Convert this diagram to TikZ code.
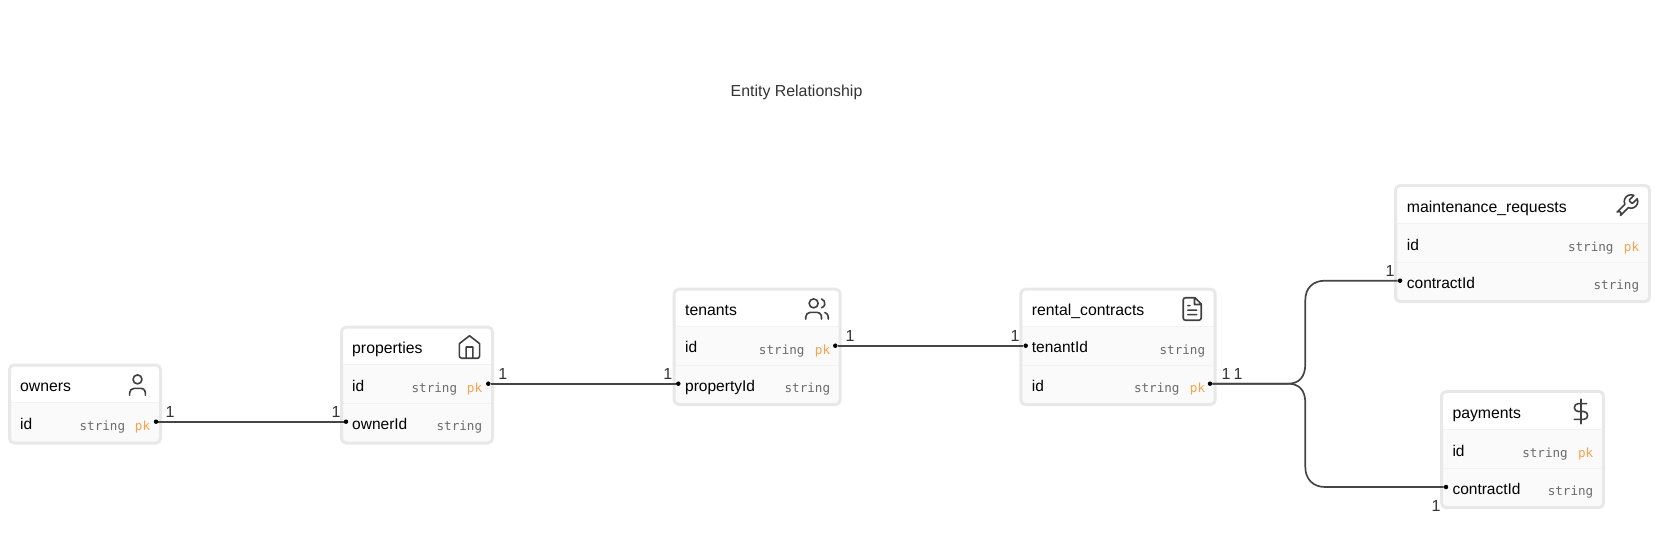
\documentclass[tikz,border=0pt]{standalone}
\usepackage{fontspec}
\setmainfont{Liberation Sans}
\newfontfamily\typefont{DejaVu Sans Mono}
\usetikzlibrary{positioning,calc,svg.path}
\definecolor{framegray}{rgb}{0.91, 0.91, 0.91}
\definecolor{rowgray}{rgb}{0.98, 0.98, 0.98}
\definecolor{splitgray}{rgb}{0.95, 0.95, 0.95}
\definecolor{typegray}{rgb}{0.42, 0.42, 0.42}
\definecolor{keyorange}{rgb}{0.98, 0.63, 0.30}
\definecolor{icongray}{rgb}{0.25, 0.25, 0.25}
\definecolor{linegray}{rgb}{0.2, 0.2, 0.2}
\definecolor{wiregray}{rgb}{0.27, 0.27, 0.27}
\tikzset{
	entity/.style={rectangle,draw=framegray,line width=3pt,rounded corners=4.5pt,fill=rowgray,inner sep=0pt,
		path picture={
			\fill[white] (path picture bounding box.north west) rectangle ([yshift=-37.5pt]path picture bounding box.north east);
			\draw[splitgray,line width=1pt] ([yshift=-37.5pt]path picture bounding box.north west) -- ([yshift=-37.5pt]path picture bounding box.north east);
			\draw[splitgray,line width=1pt] ([yshift=-#1]path picture bounding box.north west) -- ([yshift=-#1]path picture bounding box.north east);
	}},
	entityname/.style={anchor=base west,inner sep=0pt,font=\fontsize{15.8}{18}\selectfont},
	fieldname/.style={anchor=base west,inner sep=0pt,font=\fontsize{15.5}{18}\selectfont},
	fieldtype/.style={anchor=base east,xshift=1pt,inner sep=0pt,text=typegray,font=\typefont\fontsize{12.6}{14}\selectfont},
	fieldkey/.style={anchor=base east,xshift=1pt,inner sep=0pt,text=keyorange,font=\typefont\fontsize{12.6}{14}\selectfont},
	port/.style={circle,fill=black,inner sep=0pt,minimum size=4.5pt},
	relation/.style={draw=wiregray,line width=1.7pt},
	card/.style={inner sep=0pt,xshift=1pt,text=linegray,font=\fontsize{16}{17}\selectfont},
	icon/.style={draw=icongray,line width=1.6pt,scale=1.125,yscale=-1,line cap=round,line join=round}
}
\begin{document}
\begin{tikzpicture}[x=1pt,y=-1pt]
	\useasboundingbox (0,0) rectangle (1675,559);
	
	\node[inner sep=0pt,anchor=base west,text=linegray,font=\fontsize{15.9}{18}\selectfont] (title) at (730.5,97) {Entity Relationship};
	
	%boxes
	\node[entity=200pt,minimum width=151pt,minimum height=78pt] (owners) at (85,404) {};
	\node[entity=76.5pt,minimum width=151pt,minimum height=115.8pt] (properties) at (417,385.1) {};
	\node[entity=76.5pt,minimum width=166pt,minimum height=115.3pt] (tenants) at (757.2,346.85) {};
	\node[entity=76.5pt,minimum width=194.4pt,minimum height=115.3pt] (contracts) at (1118,346.85) {};
	\node[entity=76.5pt,minimum width=254pt,minimum height=116pt] (requests) at (1522.5,243.5) {};
	\node[entity=76.5pt,minimum width=162pt,minimum height=116pt] (payments) at (1522.5,449.5) {};
	
	%owners
	\node[entityname] (ownersName) at (20,391.7) {owners};
	\node[fieldname] (ownersIdName) at (20,429) {id};
	\node[fieldtype] (ownersIdType) at (124.3,430) {string};
	\node[fieldkey] (ownersIdKey) at (149.3,430) {pk};
	
	%properties
	\node[entityname] (propertiesName) at (352,353.9) {properties};
	\node[fieldname] (propertiesIdName) at (352,391) {id};
	\node[fieldtype] (propertiesIdType) at (456.3,392) {string};
	\node[fieldkey] (propertiesIdKey) at (481.3,392) {pk};
	\node[fieldname] (propertiesOwnerName) at (352,429) {ownerId};
	\node[fieldtype] (propertiesOwnerType) at (481.3,430) {string};
	
	%tenants
	\node[entityname] (tenantsName) at (685,315.9) {tenants};
	\node[fieldname] (tenantsIdName) at (685,352.7) {id};
	\node[fieldtype] (tenantsIdType) at (803.7,354) {string};
	\node[fieldkey] (tenantsIdKey) at (829.3,354) {pk};
	\node[fieldname] (tenantsPropertyName) at (685,391) {propertyId};
	\node[fieldtype] (tenantsPropertyType) at (829.3,392.3) {string};
	
	%rental contracts
	\node[entityname] (contractsName) at (1031.7,315.9) {rental\_contracts};
	\node[fieldname] (contractsTenantName) at (1031.7,352.7) {tenantId};
	\node[fieldtype] (contractsTenantType) at (1204.3,354) {string};
	\node[fieldname] (contractsIdName) at (1031.7,391) {id};
	\node[fieldtype] (contractsIdType) at (1178.7,392.3) {string};
	\node[fieldkey] (contractsIdKey) at (1204.3,392.3) {pk};
	
	%maintenance requests
	\node[entityname] (requestsName) at (1406.7,212.2) {maintenance\_requests};
	\node[fieldname] (requestsIdName) at (1406.7,250) {id};
	\node[fieldtype] (requestsIdType) at (1612.7,251) {string};
	\node[fieldkey] (requestsIdKey) at (1638.3,251) {pk};
	\node[fieldname] (requestsContractName) at (1406.7,288) {contractId};
	\node[fieldtype] (requestsContractType) at (1638.3,289.3) {string};
	
	%payments
	\node[entityname] (paymentsName) at (1452.3,418) {payments};
	\node[fieldname] (paymentsIdName) at (1452.3,456) {id};
	\node[fieldtype] (paymentsIdType) at (1567,457.3) {string};
	\node[fieldkey] (paymentsIdKey) at (1592.5,457.3) {pk};
	\node[fieldname] (paymentsContractName) at (1452.3,494) {contractId};
	\node[fieldtype] (paymentsContractType) at (1592.5,495.3) {string};
	
	%icons
	\draw[shift={(124,371.5)},icon] svg "M 16 7 a 4 4 0 1 0 -8 0 a 4 4 0 1 0 8 0 M 19 21 v -2 a 4 4 0 0 0 -4 -4 H 9 a 4 4 0 0 0 -4 4 v 2";
	\draw[shift={(456,333.5)},icon] svg "M 3 9 L 12 2 L 21 9 V 20 a 2 2 0 0 1 -2 2 H 5 a 2 2 0 0 1 -2 -2 Z M 9 22 V 12 H 15 V 22";
	\draw[shift={(803.5,295.5)},icon] svg "M 16 21 v -2 a 4 4 0 0 0 -4 -4 H 6 a 4 4 0 0 0 -4 4 v 2 M 13 7 a 4 4 0 1 0 -8 0 a 4 4 0 1 0 8 0 M 22 21 v -2 a 4 4 0 0 0 -3 -3.87 M 16 3.13 a 4 4 0 0 1 0 7.75";
	\draw[shift={(1178.7,295.5)},icon] svg "M 14.5 2 H 6 a 2 2 0 0 0 -2 2 v 16 a 2 2 0 0 0 2 2 h 12 a 2 2 0 0 0 2 -2 V 7.5 Z M 14 2 V 8 H 20 M 16 13 H 8 M 16 17 H 8 M 10 9 H 8";
	\draw[shift={(1613,192.5)},icon] svg "M 14.7 6.3 a 1 1 0 0 0 0 1.4 l 1.6 1.6 a 1 1 0 0 0 1.4 0 l 3.77 -3.77 a 6 6 0 0 1 -7.94 7.94 l -6.91 6.91 a 2.12 2.12 0 0 1 -3 -3 l 6.91 -6.91 a 6 6 0 0 1 7.94 -7.94 l -3.76 3.76 Z";
	\draw[shift={(1567.5,398)},icon] svg "M 12 1 V 23 M 17 5 H 9.5 a 3.5 3.5 0 0 0 0 7 h 5 a 3.5 3.5 0 0 1 0 7 H 6";
	
	%ports
	\node[port] (ownersId) at (156,421.7) {};
	\node[port] (propertiesOwner) at (346,421.7) {};
	\node[port] (propertiesId) at (488.3,383.7) {};
	\node[port] (tenantsProperty) at (678.3,383.7) {};
	\node[port] (tenantsId) at (835.3,345.7) {};
	\node[port] (contractsTenant) at (1025.7,345.7) {};
	\node[port] (contractsId) at (1210,383.7) {};
	\node[port] (requestsContract) at (1400,280.7) {};
	\node[port] (paymentsContract) at (1446,487) {};
	
	\coordinate (fork) at (1288,383.7);
	
	\draw[relation] (ownersId) -- (propertiesOwner);
	\draw[relation] (propertiesId) -- (tenantsProperty);
	\draw[relation] (tenantsId) -- (contractsTenant);
	\draw[relation] (contractsId) -- (fork) .. controls (1299,383.7) and (1305.3,377) .. (1305.3,364) -- (1305.3,300) .. controls (1305.3,288) and (1313,280.7) .. (1325,280.7) -- (requestsContract);
	\draw[relation] (contractsId) -- (fork) .. controls (1299,383.7) and (1305.3,390) .. (1305.3,403) -- (1305.3,467) .. controls (1305.3,479) and (1313,487) .. (1325,487) -- (paymentsContract);
	
	%cardinalities
	\node[card] (ownersCard) at (169,411.7) {1};
	\node[card] (propertiesOwnerCard) at (335,411.7) {1};
	\node[card] (propertiesCard) at (501.7,374) {1};
	\node[card] (tenantsPropertyCard) at (666.7,374) {1};
	\node[card] (tenantsCard) at (849,336) {1};
	\node[card] (contractsTenantCard) at (1014,336) {1};
	\node[card] (contractsCardA) at (1225,374) {1};
	\node[card] (contractsCardB) at (1237,374) {1};
	\node[card] (requestsCard) at (1389,270.7) {1};
	\node[card] (paymentsCard) at (1435,506) {1};
	
\end{tikzpicture}
\end{document}
